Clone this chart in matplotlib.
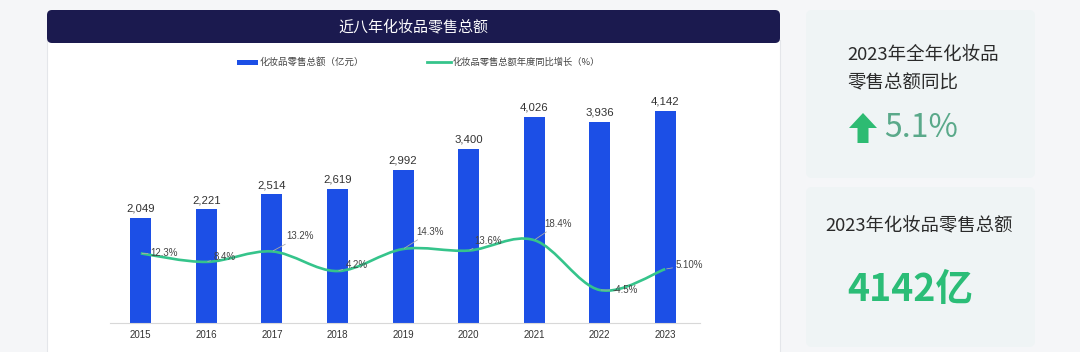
import matplotlib
matplotlib.use("Agg")
import matplotlib.pyplot as plt
from matplotlib.patches import FancyBboxPatch, Rectangle, FancyArrow, PathPatch
from matplotlib.path import Path
import numpy as np

plt.rcParams['font.family'] = ['Noto Sans CJK SC', 'DejaVu Sans']
NUM_FONT = ['Liberation Sans', 'DejaVu Sans']

# ---------------- data ----------------
years = ['2015', '2016', '2017', '2018', '2019', '2020', '2021', '2022', '2023']
sales = [2049, 2221, 2514, 2619, 2992, 3400, 4026, 3936, 4142]
growth = [12.3, 8.4, 13.2, 4.2, 14.3, 13.6, 18.4, -4.5, 5.1]
growth_labels = ['12.3%', '8.4%', '13.2%', '4.2%', '14.3%', '13.6%', '18.4%', '-4.5%', '5.10%']
# label offsets (px) for growth labels
label_off = [(10, 0), (7, 5), (14, 15), (8, 6), (13, 17), (6, 10), (10, 16), (13, 0), (10, 4)]

title = '近八年化妆品零售总额'
legend_bar = '化妆品零售总额（亿元）'
legend_line = '化妆品零售总额年度同比增长（%）'

W, H = 1080, 352
fig = plt.figure(figsize=(W / 100, H / 100), dpi=100)
fig.patch.set_facecolor('#f5f6f8')

# background overlay in pixel coords
bg = fig.add_axes([0, 0, 1, 1], zorder=0)
bg.set_xlim(0, W)
bg.set_ylim(H, 0)
bg.axis('off')

# main white panel
bg.add_patch(Rectangle((47, 40), 733, 320, facecolor='white', edgecolor='#e4e6ea', lw=0.8))
# header bar
bg.add_patch(FancyBboxPatch((47, 10), 733, 33, boxstyle='round,pad=0,rounding_size=5',
                            facecolor='#1b1a4f', edgecolor='none'))
bg.text(413, 27, title, color='white', fontsize=10.8, ha='center', va='center')

# legend
blue = '#1c4fe6'
green = '#35c48b'
bg.add_patch(Rectangle((237, 59.5), 21, 5, facecolor=blue, edgecolor='none'))
bg.text(260, 62, legend_bar, fontsize=6.8, color='#444444', ha='left', va='center')
bg.plot([427, 451], [62, 62], color=green, lw=2)
bg.text(453, 62, legend_line, fontsize=6.7, color='#444444', ha='left', va='center')

# right cards
card_c = '#eff4f5'
bg.add_patch(FancyBboxPatch((806, 10), 229, 168, boxstyle='round,pad=0,rounding_size=6',
                            facecolor=card_c, edgecolor='none'))
bg.add_patch(FancyBboxPatch((806, 187), 229, 160, boxstyle='round,pad=0,rounding_size=6',
                            facecolor=card_c, edgecolor='none'))
bg.text(847, 55, '2023年全年化妆品', fontsize=13.3, color='#2a2a2a', ha='left', va='center')
bg.text(847, 83, '零售总额同比', fontsize=13.3, color='#2a2a2a', ha='left', va='center')
bg.add_patch(FancyArrow(863, 143, 0, -30, width=11, head_width=28, head_length=15,
                        length_includes_head=True, facecolor='#2dbb72', edgecolor='none'))
bg.text(884, 128, '5.1%', fontsize=23, color='#5aa98a', ha='left', va='center',
        fontweight='light')
bg.text(825, 226, '2023年化妆品零售总额', fontsize=13.2, color='#2a2a2a', ha='left', va='center')
bg.text(847, 289, '4142亿', fontsize=27, color='#2bbd77', ha='left', va='center',
        fontweight='bold')

# ---------------- main chart ----------------
ax_l, ax_r, ax_t, ax_b = 110, 700, 95, 322.7
ax = fig.add_axes([ax_l / W, (H - ax_b) / H, (ax_r - ax_l) / W, (ax_b - ax_t) / H], zorder=2)
ax.patch.set_alpha(0)
x = np.arange(len(years))
ax.bar(x, sales, width=0.32, color=blue, zorder=2)
ax.set_xlim(-0.47, 8.53)
ax.set_ylim(0, 4456)
ax.set_yticks([])
ax.set_xticks(x)
ax.set_xticklabels(years, fontsize=7, color='#333333', family=NUM_FONT)
ax.tick_params(axis='x', length=0, pad=5)
for s in ['top', 'right', 'left']:
    ax.spines[s].set_visible(False)
ax.spines['bottom'].set_color('#d8d8d8')
ax.spines['bottom'].set_linewidth(0.8)
for xi, v in zip(x, sales):
    ax.annotate(f'{v:,}', (xi, v), xytext=(0, 3), textcoords='offset points',
                ha='center', va='bottom', fontsize=8.2, color='#333333', family=NUM_FONT)

ax2 = ax.twinx()
ax2.set_ylim(-19.5, 85)
ax2.axis('off')

# smooth curve through the data points (Catmull-Rom -> cubic Bezier)
pts = np.column_stack([x, growth]).astype(float)
verts = [tuple(pts[0])]
codes = [Path.MOVETO]
n = len(pts)
for i in range(n - 1):
    p0 = pts[i - 1] if i > 0 else pts[i]
    p1 = pts[i]
    p2 = pts[i + 1]
    p3 = pts[i + 2] if i + 2 < n else pts[i + 1]
    c1 = p1 + (p2 - p0) / 6.0
    c2 = p2 - (p3 - p1) / 6.0
    verts += [tuple(c1), tuple(c2), tuple(p2)]
    codes += [Path.CURVE4, Path.CURVE4, Path.CURVE4]
ax2.add_patch(PathPatch(Path(verts, codes), facecolor='none', edgecolor=green, lw=1.9,
                        zorder=3))

for xi, g, lab, (dx, dy) in zip(x, growth, growth_labels, label_off):
    ax2.annotate(lab, (xi, g), xytext=(dx * 0.72, dy * 0.72), textcoords='offset points',
                 ha='left', va='center', fontsize=7, color='#444444', zorder=4,
                 family=NUM_FONT,
                 arrowprops=dict(arrowstyle='-', color='#aaaaaa', lw=0.6,
                                 shrinkA=0, shrinkB=1))

fig.savefig('out.png', dpi=100, facecolor=fig.get_facecolor())
